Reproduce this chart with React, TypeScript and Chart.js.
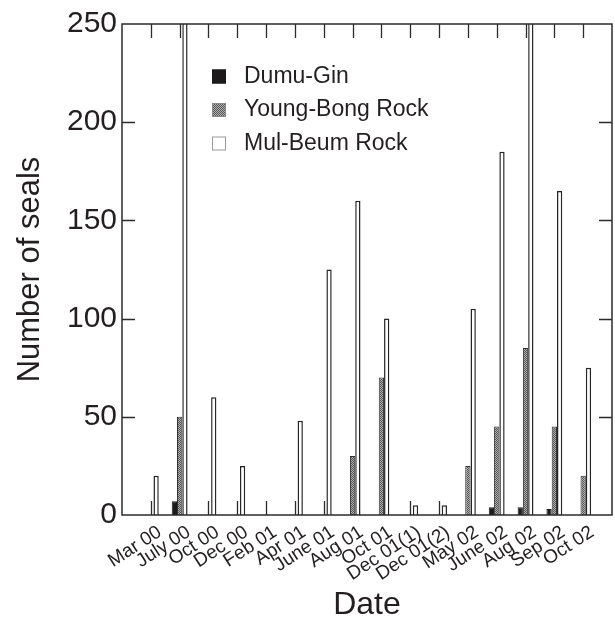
import { useEffect, useRef } from "react";
import { Chart, registerables } from "chart.js";

Chart.register(...registerables);

// ---- data ----
const CATEGORIES = [
  "Mar 00", "July 00", "Oct 00", "Dec 00", "Feb 01", "Apr 01", "June 01", "Aug 01",
  "Oct 01", "Dec 01(1)", "Dec 01(2)", "May 02", "June 02", "Aug 02", "Sep 02", "Oct 02",
];
const SERIES_NAMES = ["Dumu-Gin", "Young-Bong Rock", "Mul-Beum Rock"];
const DUMU_GIN = [0, 7, 0, 0, 0, 0, 0, 0, 0, 0, 0, 0, 4, 4, 3, 0];
const YOUNG_BONG = [0, 50, 0, 0, 0, 0, 0, 30, 70, 0, 0, 25, 45, 85, 45, 20];
const MUL_BEUM = [20, 300, 60, 25, 0, 48, 125, 160, 100, 5, 5, 105, 185, 300, 165, 75];
const Y_TICKS = [0, 50, 100, 150, 200, 250];

const FONT = "'Liberation Sans', Arial, Helvetica, sans-serif";
const TEXT = "#231f20";
const AXIS = "#2b2b2b";

function makeGrayPattern(): CanvasPattern | string {
  const c = document.createElement("canvas");
  c.width = 2;
  c.height = 2;
  const g = c.getContext("2d");
  if (!g) return "#8c8c8c";
  g.fillStyle = "#b0b0b0";
  g.fillRect(0, 0, 2, 2);
  g.fillStyle = "#555555";
  g.fillRect(0, 0, 1, 1);
  g.fillRect(1, 1, 1, 1);
  const p = g.createPattern(c, "repeat");
  return p || "#8c8c8c";
}

const pad = (arr: number[]) => [null, ...arr, null];

const frameTicks = {
  id: "frameTicks",
  beforeDatasetsDraw(chart: any) {
    const { ctx, chartArea, scales } = chart;
    const { left, right, top, bottom } = chartArea;
    const x = scales.x;
    const y = scales.y;
    ctx.save();
    ctx.strokeStyle = AXIS;
    ctx.lineWidth = 1.3;
    ctx.beginPath();
    for (let i = 1; i <= CATEGORIES.length; i++) {
      const px = Math.round(x.getPixelForValue(i)) + 0.5;
      ctx.moveTo(px, bottom);
      ctx.lineTo(px, bottom - 14);
      ctx.moveTo(px, top);
      ctx.lineTo(px, top + 14);
    }
    for (const v of Y_TICKS) {
      if (v === Y_TICKS[0] || v === Y_TICKS[Y_TICKS.length - 1]) continue;
      const py = Math.round(y.getPixelForValue(v)) + 0.5;
      ctx.moveTo(left, py);
      ctx.lineTo(left + 13, py);
      ctx.moveTo(right, py);
      ctx.lineTo(right - 13, py);
    }
    ctx.stroke();
    ctx.restore();
  },
  afterDatasetsDraw(chart: any) {
    const { ctx, chartArea } = chart;
    const { left, right, top, bottom } = chartArea;
    ctx.save();
    ctx.strokeStyle = AXIS;
    ctx.lineWidth = 1.5;
    ctx.strokeRect(left, top, right - left, bottom - top);
    ctx.restore();
  },
};

const insideLegend = {
  id: "insideLegend",
  afterDraw(chart: any) {
    const { ctx, chartArea } = chart;
    const x0 = chartArea.left + 90;
    const y0 = chartArea.top + 52.5;
    ctx.save();
    chart.data.datasets.forEach((ds: any, i: number) => {
      const cy = y0 + i * 33.5;
      ctx.fillStyle = ds.backgroundColor;
      ctx.fillRect(x0, cy - 7, 14, 14);
      ctx.strokeStyle = i === 2 ? "#9a9a9a" : i === 1 ? "#8a8a8a" : "#1a1a1a";
      ctx.lineWidth = 1;
      ctx.strokeRect(x0 + 0.5, cy - 6.5, 13, 13);
      ctx.fillStyle = TEXT;
      ctx.font = `23px ${FONT}`;
      ctx.textBaseline = "middle";
      ctx.textAlign = "left";
      ctx.fillText(ds.label, x0 + 32, cy);
    });
    ctx.restore();
  },
};

export default function App() {
  const ref = useRef<HTMLCanvasElement | null>(null);

  useEffect(() => {
    if (!ref.current) return;
    const gray = makeGrayPattern();
    const chart = new Chart(ref.current, {
      type: "bar",
      data: {
        labels: ["", ...CATEGORIES, ""],
        datasets: [
          {
            label: SERIES_NAMES[0],
            data: pad(DUMU_GIN),
            backgroundColor: "#1c1a1b",
            borderColor: "#1c1a1b",
            borderWidth: 1,
          },
          {
            label: SERIES_NAMES[1],
            data: pad(YOUNG_BONG),
            backgroundColor: gray as any,
            borderColor: "#333333",
            borderWidth: 1,
          },
          {
            label: SERIES_NAMES[2],
            data: pad(MUL_BEUM),
            backgroundColor: "#ffffff",
            borderColor: "#262626",
            borderWidth: 1.5,
          },
        ],
      },
      options: {
        responsive: false,
        animation: false,
        devicePixelRatio: 1,
        layout: { padding: { top: 24, right: 3, left: 0, bottom: 0 } },
        datasets: {
          bar: { categoryPercentage: 0.55, barPercentage: 1, grouped: true },
        },
        plugins: {
          legend: { display: false },
          tooltip: { enabled: false },
        },
        scales: {
          x: {
            offset: false,
            grid: { display: false, drawTicks: false },
            border: { display: false },
            ticks: {
              autoSkip: false,
              minRotation: 33,
              maxRotation: 33,
              padding: 6,
              labelOffset: 9,
              color: TEXT,
              font: { family: FONT, size: 19 },
            },
            title: {
              display: true,
              text: "Date",
              color: TEXT,
              font: { family: FONT, size: 32, lineHeight: 1 },
              padding: 0,
            },
            afterFit: (s: any) => {
              s.height = 106;
              s.paddingLeft = 0;
              s.paddingRight = 0;
            },
          },
          y: {
            min: 0,
            max: 250,
            grid: { display: false, drawTicks: false },
            border: { display: false },
            afterBuildTicks: (s: any) => {
              s.ticks = Y_TICKS.map((v) => ({ value: v }));
            },
            ticks: {
              padding: 5,
              color: TEXT,
              font: { family: FONT, size: 30 },
            },
            title: {
              display: true,
              text: "Number of seals",
              color: TEXT,
              font: { family: FONT, size: 31, lineHeight: 1 },
              padding: { top: 15, bottom: 0 },
            },
            afterFit: (s: any) => {
              s.width = 122;
            },
          },
        },
      },
      plugins: [frameTicks, insideLegend],
    });
    return () => chart.destroy();
  }, []);

  return (
    <div style={{ position: "fixed", left: 0, top: 0, width: 615, height: 621, background: "#fff" }}>
      <canvas ref={ref} width={615} height={621} />
    </div>
  );
}
